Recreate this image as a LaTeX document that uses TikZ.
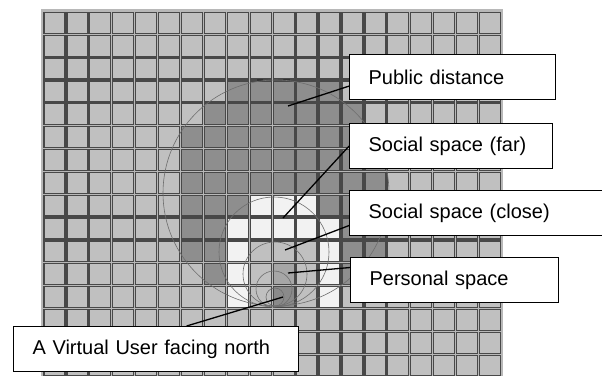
\documentclass[tikz,border=0pt]{standalone}
\usepackage{fontspec}
\setmainfont{Liberation Sans}
\usepackage{tikz}
\usetikzlibrary{positioning}
\usepackage{xcolor}

\definecolor{cellgray}{HTML}{C0C0C0}
\definecolor{publicgray}{HTML}{8E8E8E}
\definecolor{farwhite}{HTML}{F2F2F2}
\definecolor{persgray}{HTML}{A6A6A6}
\definecolor{usergray}{HTML}{8A8A8A}
\definecolor{gapgray}{HTML}{B8B8B8}
\definecolor{rimgray}{HTML}{484848}
\definecolor{ringgray}{HTML}{6E6E6E}

\newcommand{\gridcell}[3]{\draw[cell,fill=#3] ({43.3+22.92*#1+0.7},{11.7+22.85*#2+0.7}) rectangle ++(21,20.9);}

\begin{document}
\begin{tikzpicture}[x=1pt,y=-1pt,font=\fontsize{20}{24}\selectfont,
	cell/.style={draw=rimgray,line width=1.3pt},
	ring/.style={draw=ringgray,line width=0.6pt},
	lbl/.style={draw=black,fill=white,line width=1.1pt,inner xsep=19pt,inner ysep=0pt,minimum height=45pt,align=left}]
			\useasboundingbox (0,0) rectangle (602,375);
			\fill[gapgray] (41,9) rectangle (503,380);

			% the floor grid
			\foreach \r in {0,...,15}
				\foreach \c in {0,...,19}
					\gridcell{\c}{\r}{cellgray};

			% public distance
			\foreach \r/\a/\b in {3/8/12,4/7/13,5/6/14,6/6/14,7/6/14}
				\foreach \c in {\a,...,\b}
					\gridcell{\c}{\r}{publicgray};
			\foreach \c/\r in {6/8,7/8,8/8,12/8,13/8,14/8,6/9,7/9,13/9,14/9,6/10,7/10,13/10,14/10,7/11,13/11}
				\gridcell{\c}{\r}{publicgray};

			% social space
			\foreach \c/\r in {9/8,10/8,11/8,8/9,9/9,10/9,11/9,12/9,8/10,12/10,8/11,12/11,8/12,12/12}
				\gridcell{\c}{\r}{farwhite};
			\gridcell{10}{11}{persgray};
			\gridcell{10}{12}{usergray};

			\draw[line width=2pt,black!80] (257,80.3) -- (263,80.3) (283,80.3) -- (290,80.3);

			\draw[ring] (276,193) circle[radius=113];
			\draw[ring] (274,252) circle[radius=55];
			\draw[ring] (275,274) circle[radius=32];
			\draw[ring] (274,289) circle[radius=18];
			\draw[ring] (275,297) circle[radius=9];

			\coordinate (pubpt) at (288,106);
			\coordinate (farpt) at (283,218);
			\coordinate (closept) at (285,250);
			\coordinate (perspt) at (288,273);
			\coordinate (vupt) at (283,297);

			\node[lbl,text width=168pt,anchor=north west] (pub) at (349,54) {Public distance};
			\node[lbl,text width=165pt,below=23pt of pub.south west,anchor=north west] (far) {Social space (far)};
			\node[lbl,text width=242pt,below=21pt of far.south west,anchor=north west] (close) {Social space (close)};
			\node[lbl,text width=170pt,below=21pt of close.south west,anchor=north west,xshift=1pt] (pers) {Personal space};
			\node[lbl,text width=247pt,anchor=north west] (vu) at (13,326) {A Virtual User facing north};

			\tikzset{lead/.style={-,line width=1.3pt,black}}
			\draw[lead] (pubpt) -- (pub.185);
			\draw[lead] (farpt) -- (far.west);
			\draw[lead] (closept) -- (close.185);
			\draw[lead] (perspt) -- (pers.173);
			\draw[lead] (vupt) -- (vu.37);

		\end{tikzpicture}
\end{document}
